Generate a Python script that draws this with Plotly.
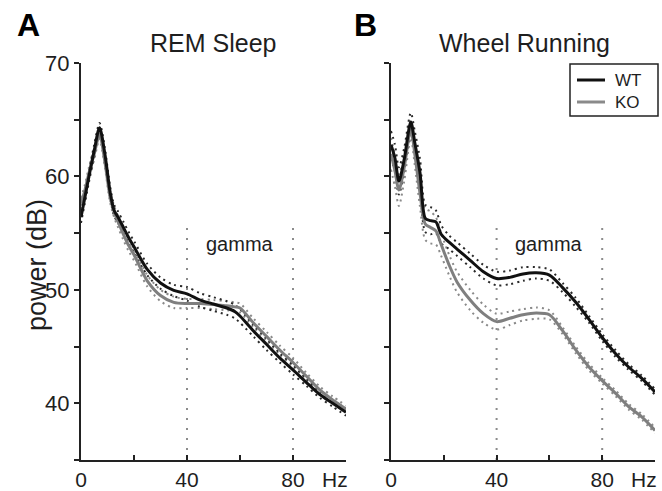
import plotly.graph_objects as go

# ---------------- data ----------------
freq_rem = [0, 1.5, 3, 5, 7, 9, 11, 12.5, 14, 16, 18, 20, 25, 30, 35, 40, 45, 50, 55, 58, 60, 65, 70, 75, 80, 85, 90, 95, 100]
wt_rem = [56.4, 58.2, 60.0, 62.3, 64.3, 62.0, 58.6, 57.0, 56.4, 55.5, 54.6, 53.8, 51.8, 50.6, 49.95, 49.65, 49.1, 48.75, 48.4, 48.1, 47.7, 46.4, 45.2, 44.0, 42.95, 41.85, 40.8, 40.0, 39.2]
ko_rem = [57.6, 58.8, 60.3, 62.0, 63.7, 61.3, 58.2, 56.9, 56.0, 54.9, 53.9, 53.1, 50.8, 49.5, 48.9, 48.8, 48.8, 48.7, 48.6, 48.5, 48.4, 47.1, 45.9, 44.7, 43.6, 42.4, 41.2, 40.3, 39.5]
wt_rem_sem = [0.5, 0.5, 0.5, 0.5, 0.4, 0.5, 0.5, 0.5, 0.5, 0.5, 0.5, 0.5, 0.5, 0.5, 0.5, 0.6, 0.6, 0.6, 0.6, 0.6, 0.6, 0.5, 0.5, 0.4, 0.4, 0.3, 0.3, 0.3, 0.3]
ko_rem_sem = [0.5, 0.5, 0.5, 0.5, 0.4, 0.5, 0.5, 0.5, 0.5, 0.5, 0.5, 0.5, 0.5, 0.5, 0.5, 0.4, 0.4, 0.4, 0.4, 0.4, 0.4, 0.4, 0.4, 0.4, 0.4, 0.3, 0.3, 0.3, 0.3]

freq_run = [0, 1.5, 3, 5, 7.5, 9, 11, 13, 15, 17, 19, 22, 25, 30, 35, 40, 45, 50, 55, 60, 65, 70, 75, 80, 85, 90, 95, 100]
wt_run = [62.8, 61.6, 59.6, 61.5, 64.8, 63.0, 60.3, 56.3, 56.1, 56.0, 54.9, 54.2, 53.6, 52.6, 51.6, 51.0, 51.1, 51.4, 51.5, 51.3, 50.2, 48.9, 47.4, 45.8, 44.4, 43.2, 42.2, 41.0]
ko_run = [62.0, 60.5, 58.8, 60.8, 64.2, 62.0, 58.5, 55.8, 55.5, 55.2, 54.0, 52.2, 50.7, 49.1, 47.9, 47.2, 47.5, 47.8, 47.95, 47.8, 46.4, 44.7, 43.2, 42.0, 40.9, 39.7, 38.8, 37.6]
wt_run_sem = [1.2, 1.2, 1.2, 1.0, 0.8, 1.0, 1.2, 1.2, 1.2, 1.0, 0.8, 0.6, 0.6, 0.6, 0.6, 0.6, 0.6, 0.6, 0.5, 0.5, 0.4, 0.4, 0.3, 0.3, 0.3, 0.25, 0.25, 0.25]
ko_run_sem = [1.4, 1.4, 1.4, 1.2, 0.8, 1.0, 1.2, 1.4, 1.4, 1.2, 1.0, 0.9, 0.9, 0.9, 0.8, 0.7, 0.6, 0.5, 0.5, 0.4, 0.3, 0.3, 0.3, 0.25, 0.25, 0.25, 0.25, 0.25]

x_tickvals = [0, 20, 40, 60, 80, 100]
x_ticktext = ["0", "", "40", "", "80", ""]
y_tickvals = [35, 40, 45, 50, 55, 60, 65, 70]
y_ticktext_a = ["", "40", "", "50", "", "60", "", "70"]
gamma_band = [40, 80]
titles = ["REM Sleep", "Wheel Running"]
panel_letters = ["A", "B"]
legend_names = ["WT", "KO"]

# ---------------- styles ----------------
W, H = 662, 491
FONT = "Liberation Sans, Arial, Helvetica, sans-serif"
TXT = "#1e1e1e"
WT_COL = "#111111"
KO_COL = "#7f7f7f"
WT_DOT = "#2a2a2a"
KO_DOT = "#8a8a8a"


def px_x(p):
    return p / W


def px_y(p):
    return 1 - p / H


fig = go.Figure()

panels = [
    ("x", "y", freq_rem, wt_rem, ko_rem, wt_rem_sem, ko_rem_sem),
    ("x2", "y2", freq_run, wt_run, ko_run, wt_run_sem, ko_run_sem),
]

for xa, ya, f, wt, ko, wts, kos in panels:
    for mean, sem, dcol in ((ko, kos, KO_DOT), (wt, wts, WT_DOT)):
        for sign in (1, -1):
            fig.add_trace(go.Scatter(
                x=f, y=[m + sign * s for m, s in zip(mean, sem)],
                mode="lines", xaxis=xa, yaxis=ya, showlegend=False,
                line=dict(color=dcol, width=2, dash="2px,4px", shape="spline", smoothing=0.8),
                hoverinfo="skip"))
    fig.add_trace(go.Scatter(
        x=f, y=ko, mode="lines", name="KO", xaxis=xa, yaxis=ya, showlegend=False,
        line=dict(color=KO_COL, width=3, shape="spline", smoothing=0.8)))
    fig.add_trace(go.Scatter(
        x=f, y=wt, mode="lines", name="WT", xaxis=xa, yaxis=ya, showlegend=False,
        line=dict(color=WT_COL, width=3, shape="spline", smoothing=0.8)))

# gamma band markers
for xa, ya in (("x", "y"), ("x2", "y2")):
    for g in gamma_band:
        fig.add_shape(type="line", xref=xa, yref=ya, x0=g, x1=g, y0=35, y1=55.5,
                      line=dict(color="#8c8c8c", width=2, dash="2px,8px"), layer="below")
    fig.add_annotation(xref=xa, yref=ya, x=sum(gamma_band) / 2, y=54.0, text="gamma",
                       xanchor="center", yanchor="middle",
                       showarrow=False, font=dict(family=FONT, size=20, color=TXT))
    fig.add_annotation(xref=xa, yref="paper", x=96, y=px_y(479), text="Hz", showarrow=False,
                       xanchor="center", yanchor="middle",
                       font=dict(family=FONT, size=21, color=TXT))

# titles and panel letters
for cx, t in zip((213, 524), titles):
    fig.add_annotation(xref="paper", yref="paper", x=px_x(cx), y=px_y(43), text=t,
                       xanchor="center", yanchor="middle",
                       showarrow=False, font=dict(family=FONT, size=25, color=TXT))
for cx, t in zip((28, 366), panel_letters):
    fig.add_annotation(xref="paper", yref="paper", x=px_x(cx), y=px_y(25), text="<b>%s</b>" % t,
                       xanchor="center", yanchor="middle",
                       showarrow=False, font=dict(family=FONT, size=32, color="#000"))
fig.add_annotation(xref="paper", yref="paper", x=px_x(37), y=px_y(265), text="power (dB)",
                   xanchor="center", yanchor="middle",
                   textangle=-90, showarrow=False, font=dict(family=FONT, size=27, color=TXT))

# legend box (panel B)
fig.add_shape(type="rect", xref="paper", yref="paper", x0=px_x(570), x1=px_x(658),
              y0=px_y(116), y1=px_y(64), line=dict(color="#222", width=1.5), fillcolor="white")
for yy, name, col in zip((80, 102), legend_names, (WT_COL, "#8a8a8a")):
    fig.add_shape(type="line", xref="paper", yref="paper", x0=px_x(577), x1=px_x(605),
                  y0=px_y(yy), y1=px_y(yy), line=dict(color=col, width=3))
    fig.add_annotation(xref="paper", yref="paper", x=px_x(613), y=px_y(yy + 0.5), text=name,
                       xanchor="left", yanchor="middle", showarrow=False,
                       font=dict(family=FONT, size=17, color=TXT))

xdom_a = [px_x(81), px_x(346)]
xdom_b = [px_x(391), px_x(655)]
ydom = [px_y(460), px_y(63)]

xcommon = dict(range=[0, 100], tickvals=x_tickvals, ticktext=x_ticktext, ticks="inside",
               ticklen=5, tickwidth=2, tickcolor="#222", showline=True, linecolor="#222",
               linewidth=2, showgrid=False, zeroline=False, automargin=False,
               tickfont=dict(family=FONT, size=21, color=TXT))
ycommon = dict(range=[35, 70], tickvals=y_tickvals, ticks="outside", ticklen=5, tickwidth=2,
               tickcolor="#222", showline=True, linecolor="#222", linewidth=2, showgrid=False,
               zeroline=False, automargin=False, tickfont=dict(family=FONT, size=22, color=TXT))

fig.update_layout(
    width=W, height=H, autosize=False,
    margin=dict(l=0, r=0, t=0, b=0, pad=0),
    paper_bgcolor="white", plot_bgcolor="white",
    font=dict(family=FONT, color=TXT),
    xaxis=dict(domain=xdom_a, anchor="y", **xcommon),
    yaxis=dict(domain=ydom, anchor="x", ticktext=y_ticktext_a, **ycommon),
    xaxis2=dict(domain=xdom_b, anchor="y2", **xcommon),
    yaxis2=dict(domain=ydom, anchor="x2", ticktext=[""] * len(y_tickvals), **ycommon),
    showlegend=False,
)

fig.write_html("out.html")
